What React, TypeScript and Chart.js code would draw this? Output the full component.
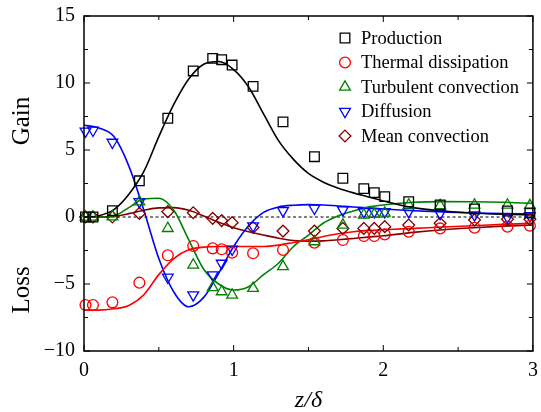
import React, { useEffect, useRef } from 'react';
import { Chart, registerables } from 'chart.js';

Chart.register(...registerables);

// ---- data ----
const seriesNames = ['Production', 'Thermal dissipation', 'Turbulent convection', 'Diffusion', 'Mean convection'];
const seriesColors = ['#000000', '#ff0000', '#008000', '#0000ff', '#800000'];
const seriesMarkers = ['square', 'circle', 'triUp', 'triDown', 'diamond'];

const pointX = [0.01, 0.06, 0.19, 0.37, 0.56, 0.73, 0.86, 0.92, 0.99, 1.13, 1.33, 1.54, 1.73, 1.87, 1.94, 2.01, 2.17, 2.38, 2.61, 2.83, 2.98];
const productionPts = [0, 0, 0.47, 2.7, 7.37, 10.9, 11.84, 11.74, 11.34, 9.75, 7.1, 4.5, 2.89, 2.12, 1.82, 1.52, 1.14, 0.9, 0.6, 0.45, 0.3];
const thermalPts = [-6.57, -6.57, -6.37, -4.9, -2.86, -2.16, -2.34, -2.41, -2.66, -2.71, -2.46, -1.92, -1.72, -1.42, -1.42, -1.3, -1.1, -0.85, -0.8, -0.72, -0.65];
const turbulentPts = [0, 0, 0.02, 1.14, -0.85, -3.58, -5.27, -5.57, -5.82, -5.32, -3.7, -1.84, -0.6, 0.15, 0.2, 0.3, 0.9, 0.85, 0.9, 0.9, 0.85];
const diffusionPts = [6.4, 6.47, 5.57, 1.14, -4.5, -5.82, -4.33, -3.46, -2.41, -0.67, 0.47, 0.65, 0.52, 0.4, 0.4, 0.4, 0.4, 0.27, 0.15, 0.0, 0.1];
const meanPts = [0, 0, 0, 0.27, 0.4, 0.32, -0.1, -0.27, -0.42, -0.78, -1.05, -1.05, -0.85, -0.85, -0.85, -0.72, -0.6, -0.47, -0.22, -0.17, -0.17];

const curveX = [0, 0.1, 0.2, 0.3, 0.4, 0.5, 0.6, 0.7, 0.8, 0.9, 1.0, 1.1, 1.2, 1.3, 1.4, 1.5, 1.6, 1.7, 1.8, 1.9, 2.0, 2.2, 2.4, 2.6, 2.8, 3.0];
const productionFit = [0, 0.1, 0.55, 1.7, 3.4, 6.0, 8.4, 10.3, 11.4, 11.6, 11.0, 9.7, 7.7, 5.7, 4.3, 3.25, 2.6, 2.15, 1.8, 1.5, 1.2, 0.7, 0.45, 0.3, 0.2, 0.15];
const thermalFit = [-6.95, -6.95, -6.85, -6.6, -5.8, -4.3, -3.1, -2.45, -2.25, -2.2, -2.2, -2.2, -2.2, -2.1, -1.9, -1.7, -1.45, -1.25, -1.1, -1.0, -0.95, -0.85, -0.75, -0.65, -0.55, -0.47];
const turbulentFit = [0, 0, 0.08, 0.7, 1.35, 1.4, 0.5, -1.7, -3.9, -5.0, -5.45, -5.2, -4.3, -3.45, -2.2, -1.35, -0.45, 0.1, 0.45, 0.75, 0.9, 1.1, 1.15, 1.14, 1.1, 1.02];
const diffusionFit = [6.85, 6.65, 6.0, 3.8, 0.5, -3.1, -5.6, -6.7, -6.0, -4.2, -2.2, -0.65, 0.35, 0.75, 0.88, 0.92, 0.9, 0.82, 0.75, 0.68, 0.6, 0.47, 0.38, 0.3, 0.25, 0.22];
const meanFit = [0, 0, 0.05, 0.25, 0.5, 0.68, 0.7, 0.5, 0.08, -0.4, -0.8, -1.1, -1.35, -1.58, -1.75, -1.8, -1.78, -1.7, -1.6, -1.5, -1.4, -1.15, -0.95, -0.8, -0.68, -0.6];

const xMajorTicks = [0, 1, 2, 3];
const xMinorTicks = [0.5, 1.5, 2.5];
const yMajorTicks = [-10, -5, 0, 5, 10, 15];
const yMinorTicks = [-7.5, -2.5, 2.5, 7.5, 12.5];

const xTitle = 'z/δ';
const gainLabel = 'Gain';
const lossLabel = 'Loss';

const SERIF = "'Liberation Serif', 'Times New Roman', 'DejaVu Serif', serif";

const pointSets = [productionPts, thermalPts, turbulentPts, diffusionPts, meanPts];
const fitSets = [productionFit, thermalFit, turbulentFit, diffusionFit, meanFit];

const markerStyle: Record<string, { pointStyle: string; radius: number; rotation: number }> = {
  square: { pointStyle: 'rect', radius: 6.8, rotation: 0 },
  circle: { pointStyle: 'circle', radius: 5.4, rotation: 0 },
  triUp: { pointStyle: 'triangle', radius: 6.2, rotation: 0 },
  triDown: { pointStyle: 'triangle', radius: 6.2, rotation: 180 },
  diamond: { pointStyle: 'rectRot', radius: 5.9, rotation: 0 },
};

function drawMarker(ctx: CanvasRenderingContext2D, kind: string, x: number, y: number, color: string) {
  const m = markerStyle[kind];
  const r = m.radius;
  ctx.save();
  ctx.strokeStyle = color;
  ctx.lineWidth = 1.3;
  ctx.beginPath();
  if (kind === 'square') {
    const s = Math.SQRT1_2 * r;
    ctx.rect(x - s, y - s, 2 * s, 2 * s);
  } else if (kind === 'circle') {
    ctx.arc(x, y, r, 0, Math.PI * 2);
  } else if (kind === 'triUp' || kind === 'triDown') {
    const sgn = kind === 'triUp' ? 1 : -1;
    for (let i = 0; i < 3; i++) {
      const a = (i * 2 * Math.PI) / 3;
      const px = x + Math.sin(a) * r;
      const py = y - sgn * Math.cos(a) * r;
      if (i === 0) ctx.moveTo(px, py); else ctx.lineTo(px, py);
    }
    ctx.closePath();
  } else {
    ctx.moveTo(x, y - r);
    ctx.lineTo(x + r, y);
    ctx.lineTo(x, y + r);
    ctx.lineTo(x - r, y);
    ctx.closePath();
  }
  ctx.stroke();
  ctx.restore();
}

const decorPlugin = {
  id: 'decor',
  beforeDatasetsDraw(chart: any) {
    const { ctx, chartArea, scales } = chart;
    const y0 = scales.y.getPixelForValue(0);
    ctx.save();
    ctx.strokeStyle = '#000';
    ctx.lineWidth = 1;
    ctx.setLineDash([3, 2.5]);
    ctx.beginPath();
    ctx.moveTo(chartArea.left, y0);
    ctx.lineTo(chartArea.right, y0);
    ctx.stroke();
    ctx.restore();
  },
  afterDatasetsDraw(chart: any) {
    const { ctx, chartArea, scales } = chart;
    const { left, right, top, bottom } = chartArea;
    ctx.save();
    ctx.strokeStyle = '#000';
    ctx.lineWidth = 1.5;
    ctx.strokeRect(left, top, right - left, bottom - top);
    ctx.lineWidth = 1;
    ctx.beginPath();
    const tickX = (v: number, len: number) => {
      const px = scales.x.getPixelForValue(v);
      ctx.moveTo(px, bottom); ctx.lineTo(px, bottom - len);
      ctx.moveTo(px, top); ctx.lineTo(px, top + len);
    };
    const tickY = (v: number, len: number) => {
      const py = scales.y.getPixelForValue(v);
      ctx.moveTo(left, py); ctx.lineTo(left + len, py);
      ctx.moveTo(right, py); ctx.lineTo(right - len, py);
    };
    xMajorTicks.forEach((v) => tickX(v, 6));
    xMinorTicks.forEach((v) => tickX(v, 4));
    yMajorTicks.forEach((v) => tickY(v, 6));
    yMinorTicks.forEach((v) => tickY(v, 4));
    ctx.stroke();
    ctx.restore();
  },
  afterDraw(chart: any) {
    const { ctx, chartArea } = chart;
    ctx.save();
    ctx.fillStyle = '#000';
    // legend
    ctx.font = `18.5px ${SERIF}`;
    ctx.textAlign = 'left';
    ctx.textBaseline = 'middle';
    seriesNames.forEach((name, i) => {
      const yy = 38 + i * 24.5;
      drawMarker(ctx, seriesMarkers[i], 345, yy, seriesColors[i]);
      ctx.fillStyle = '#000';
      ctx.fillText(name, 361, yy + 1);
    });
    // side labels
    ctx.font = `25px ${SERIF}`;
    ctx.textAlign = 'center';
    ctx.textBaseline = 'middle';
    [[gainLabel, 121], [lossLabel, 290]].forEach(([t, cy]) => {
      ctx.save();
      ctx.translate(22, cy as number);
      ctx.rotate(-Math.PI / 2);
      ctx.fillText(t as string, 0, 0);
      ctx.restore();
    });
    // x title
    ctx.font = `italic 24px ${SERIF}`;
    ctx.textAlign = 'center';
    ctx.textBaseline = 'middle';
    ctx.fillText(xTitle, (chartArea.left + chartArea.right) / 2, 401);
    ctx.restore();
  },
};

export default function App() {
  const ref = useRef<HTMLCanvasElement | null>(null);
  useEffect(() => {
    document.body.style.margin = '0';
    const canvas = ref.current;
    if (!canvas) return;
    const datasets: any[] = [];
    seriesNames.forEach((name, i) => {
      const m = markerStyle[seriesMarkers[i]];
      datasets.push({
        label: name,
        data: pointX.map((x, j) => ({ x, y: pointSets[i][j] })),
        showLine: false,
        pointStyle: m.pointStyle,
        pointRadius: m.radius,
        pointRotation: m.rotation,
        pointBorderColor: seriesColors[i],
        pointBackgroundColor: 'rgba(0,0,0,0)',
        pointBorderWidth: 1.3,
        borderColor: seriesColors[i],
        backgroundColor: 'rgba(0,0,0,0)',
        clip: false,
      });
    });
    seriesNames.forEach((name, i) => {
      datasets.push({
        label: name + ' fit',
        data: curveX.map((x, j) => ({ x, y: fitSets[i][j] })),
        showLine: true,
        pointRadius: 0,
        borderColor: seriesColors[i],
        borderWidth: 1.6,
        cubicInterpolationMode: 'monotone',
        fill: false,
      });
    });
    const chart = new Chart(canvas, {
      type: 'scatter',
      data: { datasets },
      options: {
        responsive: false,
        devicePixelRatio: 1,
        animation: false,
        layout: { padding: { top: 16, right: 3, left: 0, bottom: 0 } },
        plugins: { legend: { display: false }, tooltip: { enabled: false } },
        scales: {
          x: {
            type: 'linear',
            min: 0,
            max: 3,
            grid: { display: false, drawTicks: false },
            border: { display: false },
            ticks: {
              stepSize: 1,
              padding: 8,
              color: '#000',
              font: { family: SERIF, size: 20 },
              maxRotation: 0,
            },
            afterFit: (s: any) => {
              s.height = 61;
              s.paddingLeft = 0;
              s.paddingRight = 0;
            },
          },
          y: {
            type: 'linear',
            min: -10,
            max: 15,
            grid: { display: false, drawTicks: false },
            border: { display: false },
            ticks: {
              stepSize: 5,
              padding: 9,
              color: '#000',
              font: { family: SERIF, size: 20 },
              callback: (v: any) => String(v).replace('-', '\u2212'),
            },
            afterFit: (s: any) => {
              s.width = 84;
              s.paddingTop = 0;
              s.paddingBottom = 0;
            },
          },
        },
      },
      plugins: [decorPlugin],
    } as any);
    return () => chart.destroy();
  }, []);
  return (
    <div style={{ width: 541, height: 412 }}>
      <canvas ref={ref} width={541} height={412} style={{ display: 'block' }} />
    </div>
  );
}
